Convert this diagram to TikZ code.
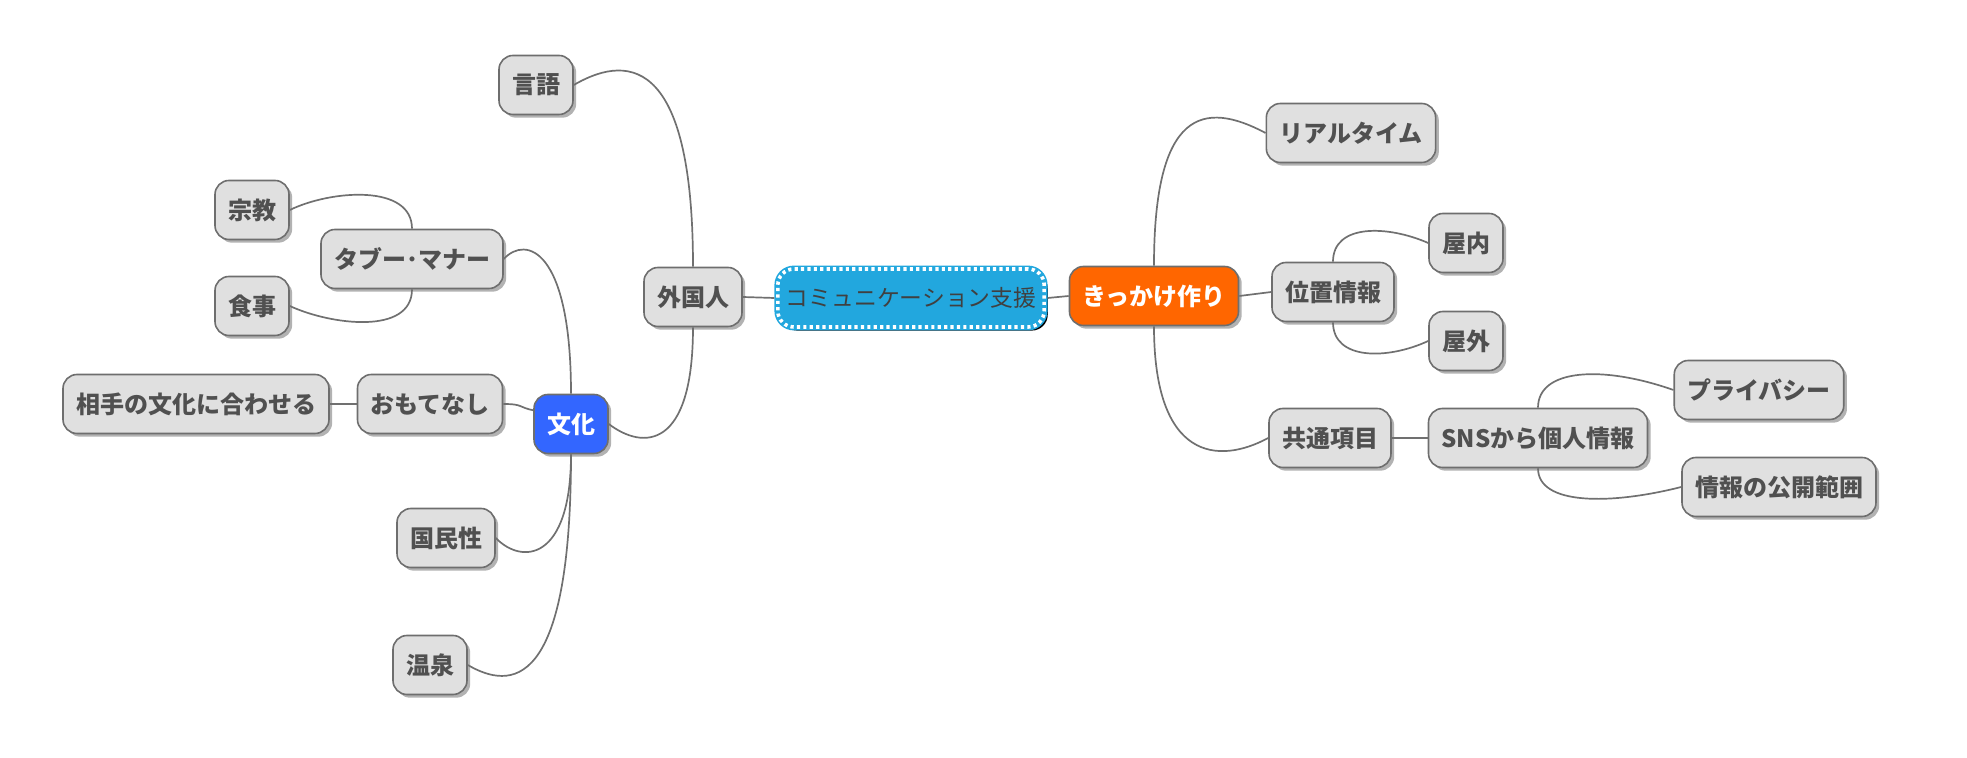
\documentclass[tikz,border=0pt]{standalone}
\usepackage{fontspec}
\newfontfamily\jpfont{Noto Sans CJK JP}
\usetikzlibrary{shadows}

\definecolor{boxgray}{HTML}{E0E0E0}
\definecolor{edgegray}{HTML}{6E6E6E}
\definecolor{textgray}{HTML}{505050}
\definecolor{linegray}{HTML}{707070}
\definecolor{centercyan}{HTML}{22A7DE}
\definecolor{centertext}{HTML}{404040}
\definecolor{bunkablue}{HTML}{3366FF}
\definecolor{kikkakeorange}{HTML}{FF6600}

\tikzset{
    topic/.style={rectangle, rounded corners=7pt, draw=edgegray, line width=0.8pt,
        fill=boxgray, text=textgray, font=\jpfont\bfseries\fontsize{12}{14}\selectfont,
        minimum height=29.5pt, inner xsep=6.5pt,
        drop shadow={shadow xshift=1.6pt, shadow yshift=-1.6pt, opacity=0.3, fill=black}},
    bluetopic/.style={topic, fill=bunkablue, text=white},
    orangetopic/.style={topic, fill=kikkakeorange, text=white},
    centertopic/.style={rectangle, rounded corners=8pt, draw=centercyan, line width=3.4pt,
        fill=centercyan, text=centertext, font=\jpfont\fontsize{11.4}{13}\selectfont,
        minimum height=29pt, minimum width=130pt, inner xsep=4pt,
        drop shadow={shadow xshift=1.8pt, shadow yshift=-1.8pt, opacity=1, fill=black},
        postaction={draw=white, line width=1.8pt, dash pattern=on 1.6pt off 1.6pt}},
    link/.style={draw=linegray, line width=0.85pt},
}

\begin{document}
\begin{tikzpicture}[x=0.5pt, y=-0.5pt]
    \useasboundingbox (0,0) rectangle (1967,758);

    % centre
    \node[centertopic] (center) at (911,298) {コミュニケーション支援};

    % left branch
    \node[topic] (gaikoku) at (693,297) {外国人};
    \node[topic] (yugo) at (536,85) {言語};
    \node[bluetopic] (bunka) at (571,424) {文化};
    \node[topic] (tabu) at (412,259) {タブー･マナー};
    \node[topic] (shukyo) at (252,210) {宗教};
    \node[topic] (shokuji) at (252,306) {食事};
    \node[topic] (omote) at (430,404) {おもてなし};
    \node[topic] (aite) at (196,404) {相手の文化に合わせる};
    \node[topic] (kokumin) at (446,538) {国民性};
    \node[topic] (onsen) at (430,665) {温泉};

    % right branch
    \node[orangetopic] (kikkake) at (1154,296) {きっかけ作り};
    \node[topic] (realtime) at (1351,133) {リアルタイム};
    \node[topic] (ichi) at (1333,292) {位置情報};
    \node[topic] (okunai) at (1466,243) {屋内};
    \node[topic] (okugai) at (1466,341) {屋外};
    \node[topic] (kyotsu) at (1330,438) {共通項目};
    \node[topic] (sns) at (1538,438) {SNSから個人情報};
    \node[topic] (privacy) at (1759,390) {プライバシー};
    \node[topic] (kokai) at (1779,487) {情報の公開範囲};

    % links, left
    \draw[link] (gaikoku.east) -- (center.west);
    \draw[link] (gaikoku.north) .. controls +(0,-200) and +(60,-35) .. (yugo.east);
    \draw[link] (gaikoku.south) .. controls +(0,123) and +(34,26) .. (bunka.east);
    \draw[link] (bunka.north) .. controls +(0,-145) and +(22,-24) .. (tabu.east);
    \draw[link] (tabu.north) .. controls +(0,-45) and +(41,-20) .. (shukyo.east);
    \draw[link] (tabu.south) .. controls +(0,46) and +(41,19) .. (shokuji.east);
    \draw[link] (bunka.160) .. controls +(-15,-3) and +(20,0) .. (omote.east);
    \draw[link] (omote.west) -- (aite.east);
    \draw[link] (bunka.south) .. controls +(0,107) and +(26,27) .. (kokumin.east);
    \draw[link] (bunka.south) .. controls +(0,237) and +(43,25) .. (onsen.east);

    % links, right
    \draw[link] (center.east) -- (kikkake.west);
    \draw[link] (kikkake.north) .. controls +(0,-156) and +(-62,-33) .. (realtime.west);
    \draw[link] (kikkake.east) -- (ichi.west);
    \draw[link] (ichi.north) .. controls +(0,-38) and +(-41,-18) .. (okunai.west);
    \draw[link] (ichi.south) .. controls +(0,38) and +(-41,19) .. (okugai.west);
    \draw[link] (kikkake.south) .. controls +(0,134) and +(-50,27) .. (kyotsu.west);
    \draw[link] (kyotsu.east) -- (sns.west);
    \draw[link] (sns.north) .. controls +(0,-39) and +(-71,-25) .. (privacy.west);
    \draw[link] (sns.south) .. controls +(0,37) and +(-71,18) .. (kokai.west);
\end{tikzpicture}
\end{document}
